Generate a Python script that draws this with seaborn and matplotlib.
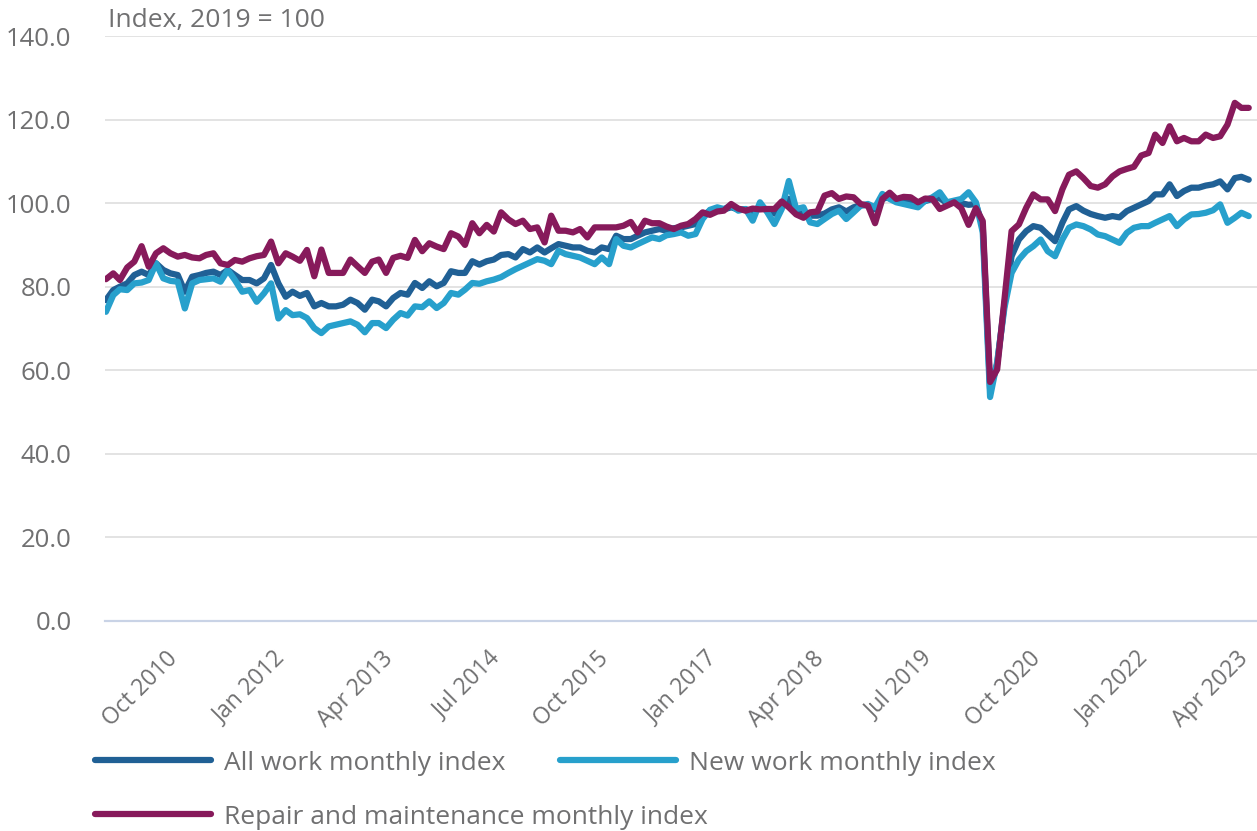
import pandas as pd
import seaborn as sns
import matplotlib.pyplot as plt
import matplotlib.ticker as mticker
import matplotlib.transforms as mtransforms

# monthly, Jan 2010 to Apr 2023 (index, 2019 = 100)
months = pd.date_range("2010-01-01", "2023-04-01", freq="MS")

all_work = [
    76.8, 79.2, 80.0, 80.8, 82.8, 83.6, 82.8, 85.6, 84.0, 83.2, 82.8, 78.8,
    82.4, 82.8, 83.3, 83.6, 82.8, 84.0, 82.8, 81.6, 81.6, 80.8, 82.0, 85.2,
    80.8, 77.6, 78.8, 77.8, 78.5, 75.3, 76.1, 75.3, 75.3, 75.7, 76.9, 76.1,
    74.5, 76.9, 76.5, 75.3, 77.3, 78.5, 78.1, 80.9, 79.7, 81.3, 80.1, 80.9,
    83.7, 83.3, 83.3, 86.1, 85.3, 86.1, 86.5, 87.6, 87.8, 87.0, 89.0, 88.2,
    89.4, 88.2, 89.2, 90.2, 89.8, 89.4, 89.4, 88.6, 88.2, 89.4, 89.0, 92.2,
    91.4, 91.4, 92.2, 93.0, 93.4, 93.8, 93.4, 94.0, 94.2, 94.6, 95.0, 97.0,
    98.2, 98.2, 98.5, 99.0, 98.5, 98.5, 98.0, 99.0, 98.5, 97.5, 99.0, 101.0,
    98.5, 97.5, 97.0, 97.0, 97.5, 98.5, 99.0, 98.0, 99.0, 99.5, 99.5, 98.5,
    101.0, 101.5, 100.5, 100.5, 100.0, 99.8, 100.5, 101.0, 101.2, 100.0, 100.3, 100.0,
    99.6, 99.8, 94.5, 55.5, 61.5, 76.0, 87.3, 91.3, 93.3, 94.5, 94.1, 92.5,
    90.9, 95.3, 98.5, 99.3, 98.2, 97.4, 96.9, 96.5, 96.9, 96.6, 98.1, 98.9,
    99.7, 100.5, 102.1, 102.1, 104.5, 101.7, 102.9, 103.7, 103.7, 104.2, 104.5, 105.2,
    103.3, 106.0, 106.3, 105.6,
]

new_work = [
    74.0, 78.0, 79.4, 79.2, 80.8, 81.0, 81.6, 85.6, 82.0, 81.4, 81.2, 74.8,
    80.8, 81.6, 81.8, 82.0, 81.2, 84.0, 81.6, 78.8, 79.2, 76.4, 78.4, 80.8,
    72.4, 74.4, 73.2, 73.4, 72.5, 70.1, 68.9, 70.5, 70.9, 71.3, 71.7, 70.9,
    69.1, 71.3, 71.3, 70.1, 72.1, 73.7, 73.1, 75.3, 75.1, 76.5, 74.9, 76.1,
    78.5, 78.1, 79.3, 80.9, 80.7, 81.3, 81.7, 82.3, 83.3, 84.2, 85.0, 85.8,
    86.6, 86.2, 85.4, 88.6, 87.8, 87.4, 87.0, 86.2, 85.4, 87.0, 85.4, 91.4,
    89.8, 89.4, 90.2, 91.0, 91.8, 91.4, 92.3, 92.6, 93.0, 92.2, 92.6, 96.2,
    98.4, 99.0, 98.6, 99.4, 98.2, 98.6, 95.8, 100.2, 97.8, 95.0, 98.6, 105.3,
    98.6, 99.0, 95.4, 95.0, 96.2, 97.4, 98.2, 96.2, 97.8, 99.4, 99.8, 99.0,
    102.2, 101.0, 100.2, 99.8, 99.4, 99.0, 100.6, 101.4, 102.6, 100.2, 100.6, 101.0,
    102.6, 100.2, 93.0, 53.6, 62.0, 75.0, 83.3, 86.5, 88.5, 89.7, 91.3, 88.5,
    87.3, 91.3, 94.1, 94.9, 94.5, 93.7, 92.5, 92.1, 91.3, 90.5, 92.9, 94.1,
    94.5, 94.5, 95.3, 96.1, 96.9, 94.5, 96.1, 97.3, 97.4, 97.7, 98.3, 99.7,
    95.3, 96.5, 97.7, 96.9,
]

repair = [
    81.8, 83.2, 81.6, 84.6, 86.0, 89.7, 84.8, 88.0, 89.2, 88.0, 87.2, 87.6,
    87.0, 86.8, 87.6, 88.0, 85.6, 85.2, 86.4, 86.0, 86.8, 87.3, 87.6, 90.8,
    85.6, 88.0, 87.2, 86.2, 88.8, 82.5, 88.9, 83.3, 83.3, 83.3, 86.5, 84.9,
    83.3, 86.0, 86.5, 83.3, 86.9, 87.4, 86.9, 91.2, 88.5, 90.4, 89.6, 89.0,
    92.8, 92.0, 90.0, 95.2, 92.8, 94.8, 93.2, 97.8, 96.1, 95.0, 95.8, 93.8,
    94.2, 90.6, 97.0, 93.4, 93.4, 93.0, 93.8, 91.8, 94.2, 94.2, 94.2, 94.2,
    94.6, 95.5, 93.0, 95.8, 95.2, 95.2, 94.4, 93.8, 94.6, 95.0, 96.2, 97.8,
    97.2, 98.0, 98.2, 99.8, 98.7, 98.2, 98.7, 98.5, 98.6, 98.6, 100.4, 99.0,
    97.3, 96.5, 97.8, 98.0, 101.8, 102.4, 101.0, 101.6, 101.4, 99.8, 99.4, 95.2,
    101.0, 102.5, 101.0, 101.5, 101.4, 100.2, 101.1, 101.0, 98.6, 99.4, 100.2, 98.8,
    94.8, 98.8, 95.7, 57.2, 60.2, 77.0, 93.3, 94.9, 98.9, 102.1, 100.9, 100.9,
    98.1, 103.3, 106.8, 107.6, 106.0, 104.1, 103.7, 104.5, 106.4, 107.6, 108.2, 108.7,
    111.4, 112.0, 116.4, 114.4, 118.4, 114.8, 115.6, 114.8, 114.8, 116.4, 115.6, 116.0,
    118.8, 124.0, 122.8, 122.8,
]

series_names = ["All work monthly index", "New work monthly index",
                "Repair and maintenance monthly index"]
series_colors = ["#206095", "#27A0CC", "#871A5B"]

tick_dates = pd.date_range("2010-10-01", "2023-04-01", freq="15MS")

sns.set_style("white")
plt.rcParams["font.family"] = ["Open Sans", "DejaVu Sans"]

grey = "#707071"
axis_blue = "#c9d3e6"
fs = 19

df = pd.DataFrame({"month": months, series_names[0]: all_work,
                   series_names[1]: new_work, series_names[2]: repair})
long_df = df.melt(id_vars="month", var_name="series", value_name="index")

fig = plt.figure(figsize=(12.57, 8.31), dpi=100)
ax = fig.add_axes([105 / 1257, 1 - 621 / 831, 1 - 105 / 1257, 585 / 831])

sns.lineplot(data=long_df, x="month", y="index", hue="series",
             hue_order=series_names, palette=series_colors,
             linewidth=4.5, legend=False, ax=ax)

ax.set_xlim(pd.Timestamp("2009-12-28"), pd.Timestamp("2023-05-06"))
ax.set_ylim(0, 140)
ax.yaxis.set_major_locator(mticker.MultipleLocator(20))
ax.yaxis.set_major_formatter(mticker.StrMethodFormatter("{x:.1f}"))
ax.set_xticks(tick_dates)
ax.set_xticklabels([d.strftime("%b %Y") for d in tick_dates],
                   rotation=45, ha="right", va="top", rotation_mode="anchor")
ax.set_xlabel("")
ax.set_ylabel("")

ax.grid(axis="y", color="#e3e3e3", linewidth=1.4)
ax.grid(axis="x", visible=False)
ax.set_axisbelow(True)
for s in ["left", "top", "right"]:
    ax.spines[s].set_visible(False)
ax.spines["bottom"].set_color(axis_blue)
ax.spines["bottom"].set_linewidth(1.6)

ax.tick_params(axis="y", length=0, pad=24, labelsize=18.5, labelcolor=grey)
ax.tick_params(axis="x", length=14.5, width=1.1, color=axis_blue,
               pad=4, labelsize=16.5, labelcolor=grey)

# nudge the rotated labels left; the last one a bit more so it stays inside
x_ticks = ax.xaxis.get_major_ticks()
for k, tick in enumerate(x_ticks):
    dx = -12 if k == len(x_ticks) - 1 else -5
    shift = mtransforms.ScaledTranslation(dx / 100, 0, fig.dpi_scale_trans)
    tick.label1.set_transform(tick.label1.get_transform() + shift)

fig.text(108 / 1257, 1 - 20 / 831, "Index, 2019 = 100", fontsize=fs,
         color=grey, ha="left", va="center")

# legend: one entry each, placed like the original layout
lines = ax.lines[:3]
legend_pos = [(95, 763), (560, 763), (95, 817)]
for line, name, (px, py) in zip(lines, series_names, legend_pos):
    leg = fig.legend([line], [name], loc="center left",
                     bbox_to_anchor=(px / 1257, 1 - py / 831),
                     frameon=False, fontsize=fs, labelcolor=grey,
                     handlelength=4.4, handletextpad=0.5,
                     borderpad=0, borderaxespad=0)

fig.savefig("out.png", dpi=100)
